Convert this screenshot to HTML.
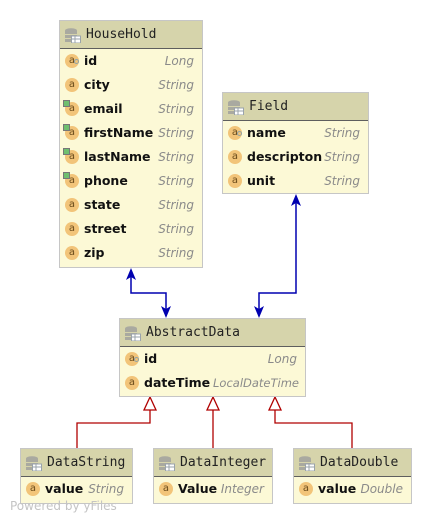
<!DOCTYPE html>
<html><head><meta charset="utf-8"><style>
html,body{margin:0;padding:0;background:#fff;width:432px;height:524px;overflow:hidden;position:relative;font-family:"DejaVu Sans","Liberation Sans",sans-serif;}
.box{position:absolute;border:1px solid #c6c6c6;background:#fcf9d6;box-sizing:border-box;}
.hd{height:28px;background:#d6d4ab;border-bottom:1px solid #5e5e5e;box-sizing:border-box;position:relative;}
.hd .t{position:absolute;left:26px;top:6px;font-family:"DejaVu Sans Mono","Liberation Mono",monospace;font-size:13px;color:#222;}
.db{position:absolute;left:5px;top:7px;width:16px;height:15px;}
.row{position:relative;height:24px;}
.ic{position:absolute;left:5px;top:5px;width:14px;height:14px;border-radius:50%;background:#f2c479;font-size:10px;line-height:13px;text-align:center;color:#6a4b1a;}
.key{position:absolute;left:14px;top:10px;width:5px;height:5px;border-radius:50%;border:1.5px solid #8fa3a8;box-sizing:border-box;}
.sq{position:absolute;left:3px;top:3px;width:7px;height:7px;border:1px solid #777;background:#6fbf6f;box-sizing:border-box;}
.n{position:absolute;left:24px;top:4px;font-weight:bold;font-size:12.5px;color:#111;}
.ty{position:absolute;right:8px;top:5px;font-style:italic;font-size:12px;color:#8a8a8a;}
</style></head><body>
<svg width="432" height="524" style="position:absolute;left:0;top:0">
<defs>
<g id="dbi"><ellipse cx="6" cy="2.5" rx="6" ry="2.3" fill="#a9a9a0"/><rect x="0" y="3" width="12" height="3" fill="#a9a9a0"/><rect x="0" y="7" width="12" height="3" fill="#a9a9a0"/><rect x="0" y="11" width="6" height="3" fill="#a9a9a0"/><rect x="6.5" y="8" width="9" height="7" fill="#fff" stroke="#9aa3ab"/><line x1="6.5" y1="11" x2="15.5" y2="11" stroke="#9aa3ab"/><line x1="10" y1="8" x2="10" y2="15" stroke="#9aa3ab"/></g>
</defs>
<g stroke="#0000b0" stroke-width="1.5" fill="none">
<polyline points="131,272 131,293 166,293 166,314"/>
<polyline points="296,198 296,293 259,293 259,314"/>
</g>
<g fill="#0000b0">
<polygon points="131,268 126,280 131,277 136,280"/>
<polygon points="166,318 161,306 166,309 171,306"/>
<polygon points="296,194 291,206 296,203 301,206"/>
<polygon points="259,318 254,306 259,309 264,306"/>
</g>
<g stroke="#b00000" stroke-width="1.3" fill="none">
<polyline points="150,410 150,423 77,423 77,448"/>
<polyline points="213,410 213,448"/>
<polyline points="275,410 275,423 352,423 352,448"/>
<polygon points="150,397 144,410 156,410" fill="#fff"/>
<polygon points="213,397 207,410 219,410" fill="#fff"/>
<polygon points="275,397 269,410 281,410" fill="#fff"/>
</g>
</svg>

<div class="box" style="left:59px;top:20px;width:144px;height:248px">
<div class="hd"><svg class="db"><use href="#dbi"/></svg><span class="t">HouseHold</span></div>
<div class="row"><span class="ic">a</span><span class="key"></span><span class="n">id</span><span class="ty">Long</span></div>
<div class="row"><span class="ic">a</span><span class="n">city</span><span class="ty">String</span></div>
<div class="row"><span class="ic">a</span><span class="sq"></span><span class="n">email</span><span class="ty">String</span></div>
<div class="row"><span class="ic">a</span><span class="sq"></span><span class="n">firstName</span><span class="ty">String</span></div>
<div class="row"><span class="ic">a</span><span class="sq"></span><span class="n">lastName</span><span class="ty">String</span></div>
<div class="row"><span class="ic">a</span><span class="sq"></span><span class="n">phone</span><span class="ty">String</span></div>
<div class="row"><span class="ic">a</span><span class="n">state</span><span class="ty">String</span></div>
<div class="row"><span class="ic">a</span><span class="n">street</span><span class="ty">String</span></div>
<div class="row"><span class="ic">a</span><span class="n">zip</span><span class="ty">String</span></div>
</div>

<div class="box" style="left:222px;top:92px;width:147px;height:102px">
<div class="hd"><svg class="db"><use href="#dbi"/></svg><span class="t">Field</span></div>
<div class="row"><span class="ic">a</span><span class="key"></span><span class="n">name</span><span class="ty">String</span></div>
<div class="row"><span class="ic">a</span><span class="n">descripton</span><span class="ty">String</span></div>
<div class="row"><span class="ic">a</span><span class="n">unit</span><span class="ty">String</span></div>
</div>

<div class="box" style="left:119px;top:318px;width:187px;height:79px">
<div class="hd"><svg class="db"><use href="#dbi"/></svg><span class="t">AbstractData</span></div>
<div class="row"><span class="ic">a</span><span class="key"></span><span class="n">id</span><span class="ty">Long</span></div>
<div class="row"><span class="ic">a</span><span class="n">dateTime</span><span class="ty" style="right:6px;font-size:11.5px">LocalDateTime</span></div>
</div>

<div class="box" style="left:20px;top:448px;width:113px;height:56px">
<div class="hd"><svg class="db"><use href="#dbi"/></svg><span class="t">DataString</span></div>
<div class="row"><span class="ic">a</span><span class="n">value</span><span class="ty">String</span></div>
</div>

<div class="box" style="left:153px;top:448px;width:120px;height:56px">
<div class="hd"><svg class="db"><use href="#dbi"/></svg><span class="t">DataInteger</span></div>
<div class="row"><span class="ic">a</span><span class="n">Value</span><span class="ty">Integer</span></div>
</div>

<div class="box" style="left:293px;top:448px;width:119px;height:56px">
<div class="hd"><svg class="db"><use href="#dbi"/></svg><span class="t">DataDouble</span></div>
<div class="row"><span class="ic">a</span><span class="n">value</span><span class="ty">Double</span></div>
</div>

<div style="position:absolute;left:10px;top:499px;font-size:12px;color:#c4c4c4;">Powered by yFiles</div>
</body></html>
